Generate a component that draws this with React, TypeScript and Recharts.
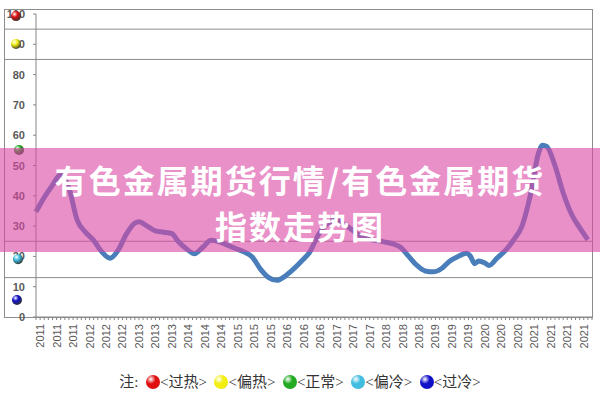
import { LineChart, Line, XAxis, YAxis, ReferenceLine } from "recharts";

// month index (0 = Jan 2011) and index value
const months = [
  0, 2, 4, 6, 8, 10, 12, 14, 16, 18, 20, 22, 24, 25, 27, 29, 31, 33, 34.5, 36.5, 38.5, 40.5, 42.5,
  44.5, 46.5, 48.5, 50.5, 52.5, 54.5, 56.5, 58.5, 60.5, 62.5, 64.5, 66.5, 68.5, 70.5, 72.5, 74.5,
  76.5, 78.5, 80.5, 82.5, 84.5, 86.5, 88.5, 90.5, 92.5, 94.5, 96.5, 98.5, 100.5, 102.5, 104.5, 105.5,
  106.5, 107.5, 109, 110, 112, 114, 116, 118, 120, 122, 123, 124, 126, 128, 130, 132, 134,
];
const values = [
  34.7, 39.5, 43.5, 47, 42.5, 32, 28, 25.3, 21.5, 19.4, 22.2, 27.5, 31, 31.4, 30, 28.4, 28, 27.5, 25,
  22.5, 20.9, 23, 25.3, 24.8, 23.7, 22.6, 21.5, 19.8, 15.8, 13, 12.1, 13.5, 15.8, 18.5, 21.5, 27, 30.5,
  32, 31, 29, 27, 25.8, 25.3, 24.8, 24.2, 23, 20, 17, 15.2, 14.9, 16, 18.5, 20, 21, 20, 17.6, 18.5,
  17.8, 17, 19.5, 22, 25.5, 30, 40, 54, 56.7, 56.3, 50, 41, 34, 29.5, 25.5,
];

const yearLabels = [
  "2011", "2011", "2011", "2012", "2012", "2012", "2013", "2013", "2013", "2014", "2014", "2014",
  "2015", "2015", "2015", "2016", "2016", "2016", "2017", "2017", "2017", "2018", "2018", "2018",
  "2019", "2019", "2019", "2020", "2020", "2020", "2021", "2021", "2021", "2021",
];
const yLabels = [0, 10, 20, 30, 40, 50, 60, 70, 80, 90, 100];

// zone thresholds and the zone markers on the value axis
const thresholds = [95, 85, 25, 13];
const zoneMarks = [99.3, 90.1, 55.1, 19.1, 5.6];
const zoneColors = ["#e01010", "#f2ee10", "#22aa22", "#40bde0", "#1010c8"];
const zoneNames = ["<过热>", "<偏热>", "<正常>", "<偏冷>", "<过冷>"];

const titleLines = ["有色金属期货行情/有色金属期货", "指数走势图"];

const data = months.map((m, i) => ({ m, v: values[i] }));
const minorTicks = Array.from({ length: 136 }, (_, i) => i);
const markDx = [-9, -9, -6, -7, -8];

function Sphere({ color, size }: { color: string; size: number }) {
  return (
    <span
      style={{
        display: "inline-block",
        width: size,
        height: size,
        borderRadius: "50%",
        background: `radial-gradient(circle at 35% 30%, #ffffff 0%, ${color} 35%, ${color} 70%, #222 130%)`,
        verticalAlign: "-2px",
      }}
    />
  );
}

function YTick({ x, y, payload }: any) {
  const k = zoneMarks.indexOf(payload.value);
  if (k >= 0) {
    const id = `g${k}`;
    return (
      <g>
        <defs>
          <radialGradient id={id} cx="35%" cy="30%" r="75%">
            <stop offset="0%" stopColor="#ffffff" />
            <stop offset="40%" stopColor={zoneColors[k]} />
            <stop offset="100%" stopColor="#333" />
          </radialGradient>
        </defs>
        <circle cx={x + markDx[k]} cy={y} r={5} fill={`url(#${id})`} />
      </g>
    );
  }
  return (
    <g>
      <line x1={x + 8} y1={y} x2={x + 11} y2={y} stroke="#868686" />
      <text x={x} y={y} dy={4} textAnchor="end" fontSize={11} fill="#595959" fontFamily="Liberation Sans" fontWeight={700}>
        {payload.value}
      </text>
    </g>
  );
}

function XTick({ x, y, payload }: any) {
  const m = payload.value;
  if (m % 4 !== 1) return <g />;
  const label = yearLabels[(m - 1) / 4];
  if (!label) return <g />;
  return (
    <text
      x={0}
      y={0}
      transform={`translate(${x + 4},${y + 2}) rotate(-90)`}
      textAnchor="end"
      fontSize={11}
      fill="#595959"
      fontFamily="Liberation Sans"
    >
      {label}
    </text>
  );
}

export default function App() {
  return (
    <div style={{ position: "fixed", left: 0, top: 0, width: 600, height: 400, background: "#fff", overflow: "hidden" }}>
      <div style={{ position: "absolute", left: 4, top: 9, width: 587, height: 307, border: "1px solid #8c8c8c" }} />
      <div style={{ position: "absolute", left: 0, top: 0 }}>
        <LineChart width={600} height={400} data={data} margin={{ top: 14, right: 8, bottom: 43, left: 4 }}>
          <XAxis
            type="number"
            dataKey="m"
            domain={[0, 135]}
            ticks={minorTicks}
            interval={0}
            tick={<XTick />}
            tickSize={3}
            height={40}
            stroke="#868686"
          />
          <YAxis
            type="number"
            domain={[0, 100]}
            ticks={[...yLabels, ...zoneMarks]}
            interval={0}
            tick={<YTick />}
            tickLine={false}
            tickSize={3}
            tickMargin={8}
            width={32}
            stroke="#868686"
          />
          {thresholds.map((t) => (
            <ReferenceLine
              key={t}
              y={t}
              shape={(p: any) => <line x1={p.x1 - 32} y1={p.y1} x2={p.x2} y2={p.y2} stroke="#8c8c8c" strokeWidth={1} />}
            />
          ))}
          <Line type="monotone" dataKey="v" stroke="#4a7ebb" strokeWidth={5} dot={false} isAnimationActive={false} />
        </LineChart>
      </div>
      <div
        style={{
          position: "absolute",
          left: 0,
          top: 148,
          width: 600,
          height: 104,
          background: "rgba(218,70,163,0.6)",
        }}
      />
      {titleLines.map((t, i) => (
        <div
          key={t}
          style={{
            position: "absolute",
            left: 0,
            top: 157 + i * 46,
            width: 600,
            height: 44,
            textAlign: "center",
            color: "#fff",
            fontFamily: '"Noto Sans CJK SC"',
            fontWeight: 700,
            fontSize: 32,
            lineHeight: "44px",
            letterSpacing: 2,
          }}
        >
          {t}
        </div>
      ))}
      <div
        style={{
          position: "absolute",
          left: 0,
          top: 370,
          width: 600,
          textAlign: "center",
          fontFamily: '"Liberation Serif", "Noto Sans CJK SC"',
          fontSize: 15,
          color: "#333",
          whiteSpace: "pre",
        }}
      >
        注:{"  "}
        {zoneNames.map((n, i) => (
          <span key={n}>
            <Sphere color={zoneColors[i]} size={14} />
            {n}
            {i < zoneNames.length - 1 ? "  " : ""}
          </span>
        ))}
      </div>
    </div>
  );
}
